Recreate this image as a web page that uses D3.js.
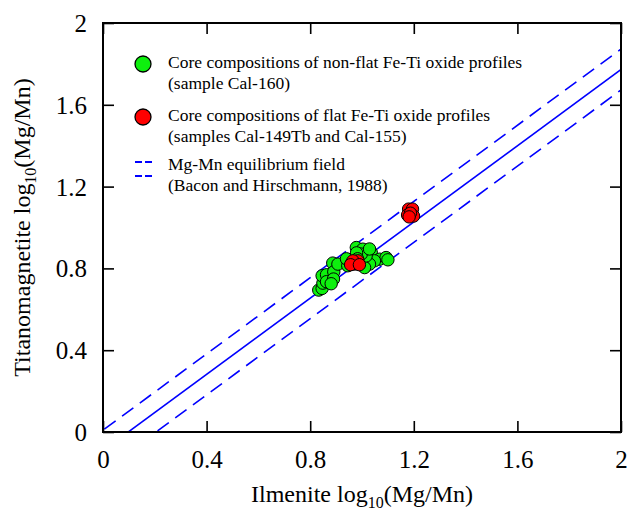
<!DOCTYPE html>
<html>
<head>
<meta charset="utf-8">
<script src="https://cdn.jsdelivr.net/npm/d3@7"></script>
<style>
  html, body { margin: 0; padding: 0; background: #fff; }
  svg { display: block; font-family: "Liberation Serif", "Times New Roman", serif; }
</style>
</head>
<body>
<svg id="chart" width="627" height="514"></svg>
<script>
// Ilmenite vs titanomagnetite log10(Mg/Mn), with the Bacon & Hirschmann (1988) equilibrium field.

// Non-flat profiles (sample Cal-160): ilmenite x, titanomagnetite y
const nonFlatIlm = [0.833, 0.846, 0.849, 0.846, 0.863, 0.863, 0.887, 0.891, 0.890, 0.907,
                    0.881, 0.978, 1.003, 1.036, 1.068, 1.093, 1.100, 1.048, 1.029, 1.010,
                    0.945, 0.940, 1.016, 0.997, 0.979, 1.029, 0.983, 0.960];
const nonFlatMt  = [0.694, 0.702, 0.728, 0.764, 0.769, 0.735, 0.826, 0.783, 0.748, 0.821,
                    0.725, 0.902, 0.894, 0.877, 0.845, 0.853, 0.842, 0.837, 0.821, 0.804,
                    0.813, 0.847, 0.861, 0.870, 0.876, 0.895, 0.847, 0.827];

// Flat profiles (samples Cal-149Tb and Cal-155)
const flatIlm = [0.971, 0.984, 0.965, 0.956, 0.990, 1.180, 1.195, 1.176, 1.199, 1.187, 1.182];
const flatMt  = [0.821, 0.837, 0.837, 0.818, 0.818, 1.090, 1.090, 1.061, 1.056, 1.070, 1.052];

// Equilibrium relation: y = slope * x + intercept, field = +/- halfWidth
const eqSlope = 0.9317;
const eqIntercept = -0.0909;
const eqHalfWidth = 0.1;
const eqOffsets = [-eqHalfWidth, 0, eqHalfWidth];

const tickValues = [0, 0.4, 0.8, 1.2, 1.6, 2];
const tickLabels = ["0", "0.4", "0.8", "1.2", "1.6", "2"];

const legendItems = [
  { kind: "green", lines: ["Core compositions of non-flat Fe-Ti oxide profiles", "(sample Cal-160)"] },
  { kind: "red",   lines: ["Core compositions of flat Fe-Ti oxide profiles", "(samples Cal-149Tb and Cal-155)"] },
  { kind: "field", lines: ["Mg-Mn equilibrium field", "(Bacon and Hirschmann, 1988)"] }
];

const GREEN = "#0ef00e";
const RED = "#ff0000";
const BLUE = "#0000ff";

const svg = d3.select("#chart");
const plotLeft = 103, plotTop = 23, plotRight = 621, plotBottom = 432;
const x = d3.scaleLinear().domain([0, 2]).range([plotLeft, plotRight]);
const y = d3.scaleLinear().domain([0, 2]).range([plotBottom, plotTop]);
const fmt = d => tickLabels[tickValues.indexOf(d)];

// clip region for the equilibrium lines
svg.append("defs").append("clipPath").attr("id", "plotClip")
  .append("rect").attr("x", plotLeft).attr("y", plotTop)
  .attr("width", plotRight - plotLeft).attr("height", plotBottom - plotTop);

// equilibrium field lines
const lineGen = d3.line().x(d => x(d[0])).y(d => y(d[1]));
const lineG = svg.append("g").attr("clip-path", "url(#plotClip)");
eqOffsets.forEach(off => {
  const pts = [[-0.2, eqSlope * -0.2 + eqIntercept + off], [2.2, eqSlope * 2.2 + eqIntercept + off]];
  lineG.append("path")
    .attr("d", lineGen(pts))
    .attr("fill", "none")
    .attr("stroke", BLUE)
    .attr("stroke-width", 1.6)
    .attr("stroke-dasharray", off === 0 ? null : "14,8");
});

// data points
const ptsG = svg.append("g");
ptsG.selectAll("circle.nf").data(d3.range(nonFlatIlm.length)).join("circle")
  .attr("class", "nf")
  .attr("cx", i => x(nonFlatIlm[i]))
  .attr("cy", i => y(nonFlatMt[i]))
  .attr("r", 6.2)
  .attr("fill", GREEN)
  .attr("stroke", "#000")
  .attr("stroke-width", 1);
ptsG.selectAll("circle.fl").data(d3.range(flatIlm.length)).join("circle")
  .attr("class", "fl")
  .attr("cx", i => x(flatIlm[i]))
  .attr("cy", i => y(flatMt[i]))
  .attr("r", 6.2)
  .attr("fill", RED)
  .attr("stroke", "#000")
  .attr("stroke-width", 1);

// axes: ticks pointing inward on all four sides
const axisStyle = g => {
  g.select(".domain").remove();
  g.selectAll(".tick line").attr("stroke", "#000").attr("stroke-width", 1.6);
  g.selectAll(".tick text").attr("fill", "#000").attr("font-size", 25)
    .attr("font-family", "Liberation Serif, Times New Roman, serif");
};

svg.append("g").attr("transform", `translate(0,${plotBottom})`)
  .call(d3.axisBottom(x).tickValues(tickValues).tickFormat(fmt).tickSizeInner(-11).tickSizeOuter(0).tickPadding(0))
  .call(axisStyle)
  .call(g => g.selectAll(".tick text").attr("y", 36).attr("dy", 0));

svg.append("g").attr("transform", `translate(${plotLeft},0)`)
  .call(d3.axisLeft(y).tickValues(tickValues).tickFormat(fmt).tickSizeInner(-11).tickSizeOuter(0).tickPadding(0))
  .call(axisStyle)
  .call(g => g.selectAll(".tick text").attr("x", -16).attr("dy", "0.34em"));

svg.append("g").attr("transform", `translate(0,${plotTop})`)
  .call(d3.axisTop(x).tickValues(tickValues).tickFormat("").tickSizeInner(-11).tickSizeOuter(0))
  .call(axisStyle);

svg.append("g").attr("transform", `translate(${plotRight},0)`)
  .call(d3.axisRight(y).tickValues(tickValues).tickFormat("").tickSizeInner(-11).tickSizeOuter(0))
  .call(axisStyle);

// frame
svg.append("rect")
  .attr("x", plotLeft).attr("y", plotTop)
  .attr("width", plotRight - plotLeft).attr("height", plotBottom - plotTop)
  .attr("fill", "none").attr("stroke", "#000").attr("stroke-width", 2);

// axis titles
const xTitle = svg.append("text")
  .attr("x", (plotLeft + plotRight) / 2).attr("y", 502)
  .attr("text-anchor", "middle").attr("font-size", 24).attr("fill", "#000");
xTitle.append("tspan").text("Ilmenite log");
xTitle.append("tspan").attr("font-size", 16).attr("dy", 6).text("10");
xTitle.append("tspan").attr("dy", -6).text("(Mg/Mn)");

const yTitle = svg.append("text")
  .attr("transform", `translate(30,${(plotTop + plotBottom) / 2}) rotate(-90)`)
  .attr("text-anchor", "middle").attr("font-size", 24).attr("fill", "#000");
yTitle.append("tspan").text("Titanomagnetite log");
yTitle.append("tspan").attr("font-size", 16).attr("dy", 6).text("10");
yTitle.append("tspan").attr("dy", -6).text("(Mg/Mn)");

// legend
const legendBase = [68, 121, 170];
const legend = svg.append("g");
legendItems.forEach((item, i) => {
  const base = legendBase[i];
  if (item.kind === "field") {
    [base - 8, base + 6].forEach(yy => {
      [[135, 142], [145, 152]].forEach(seg => {
        legend.append("line")
          .attr("x1", seg[0]).attr("x2", seg[1])
          .attr("y1", yy).attr("y2", yy)
          .attr("stroke", BLUE).attr("stroke-width", 2);
      });
    });
  } else {
    legend.append("circle")
      .attr("cx", 143).attr("cy", base - 4)
      .attr("r", 8)
      .attr("fill", item.kind === "green" ? GREEN : RED)
      .attr("stroke", "#000").attr("stroke-width", 1.3);
  }
  item.lines.forEach((t, j) => {
    legend.append("text")
      .attr("x", 168).attr("y", base + j * 21)
      .attr("font-size", 17.5).attr("fill", "#000")
      .text(t);
  });
});
</script>
</body>
</html>
